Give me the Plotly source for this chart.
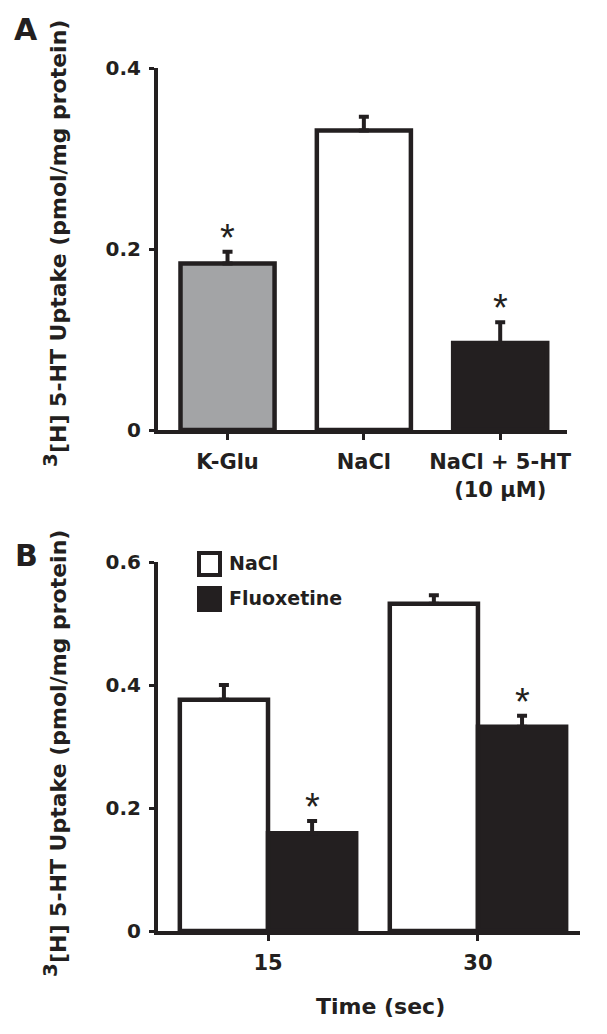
import plotly.graph_objects as go

# ---- Data ----
a_categories = ["K-Glu", "NaCl", "NaCl + 5-HT<br>(10 μM)"]
a_values = [0.184, 0.331, 0.096]
a_errors = [0.013, 0.015, 0.023]
a_colors = ["#a3a4a6", "#ffffff", "#231f20"]
a_signif = [True, False, True]

b_categories = ["15", "30"]
b_series = ["NaCl", "Fluoxetine"]
b_nacl = [0.376, 0.532]
b_nacl_err = [0.024, 0.014]
b_fluox = [0.159, 0.332]
b_fluox_err = [0.020, 0.018]
b_colors = ["#ffffff", "#231f20"]
b_signif_nacl = [False, False]
b_signif_fluox = [True, True]

a_ticks = [0, 0.2, 0.4]
a_ticktext = ["0", "0.2", "0.4"]
b_ticks = [0, 0.2, 0.4, 0.6]
b_ticktext = ["0", "0.2", "0.4", "0.6"]

INK = "#231f20"
FONT = "DejaVu Sans"
OFF = 8  # page body margin
W, H = 607 - OFF, 1034 - OFF


def px(x):
    return (x - OFF) / W


def py(y):
    return 1 - (y - OFF) / H


fig = go.Figure()

err_style = dict(type="data", symmetric=False, thickness=4, width=5, color=INK)

fig.add_trace(go.Bar(
    x=a_categories, y=a_values, width=0.69,
    marker=dict(color=a_colors, line=dict(color=INK, width=4.5)),
    error_y=dict(array=a_errors, arrayminus=[0] * len(a_errors), **err_style),
    xaxis="x", yaxis="y", showlegend=False,
))

b_vals = [b_nacl, b_fluox]
b_errs = [b_nacl_err, b_fluox_err]
for name, vals, errs, col in zip(b_series, b_vals, b_errs, b_colors):
    fig.add_trace(go.Bar(
        x=b_categories, y=vals, name=name,
        marker=dict(color=col, line=dict(color=INK, width=4.5)),
        error_y=dict(array=errs, arrayminus=[0] * len(errs), **err_style),
        xaxis="x2", yaxis="y2", showlegend=False,
    ))

# asterisks
star_font = dict(size=38, color=INK, family="Liberation Sans")
annotations = []
for i, (v, e, s) in enumerate(zip(a_values, a_errors, a_signif)):
    if s:
        annotations.append(dict(x=i, y=v + e, xref="x", yref="y",
                                text="*", showarrow=False, xanchor="center", yanchor="middle",
                                yshift=14, font=star_font))
offsets = [-0.21, 0.21]
for k, (vals, errs, sig) in enumerate([(b_nacl, b_nacl_err, b_signif_nacl), (b_fluox, b_fluox_err, b_signif_fluox)]):
    for i, (v, e, s) in enumerate(zip(vals, errs, sig)):
        if s:
            annotations.append(dict(x=i + offsets[k], y=v + e, xref="x2", yref="y2",
                                    text="*", showarrow=False, xanchor="center", yanchor="middle",
                                    yshift=14, font=star_font))

bold = dict(color=INK, family=FONT, weight="bold")
ytitle = "<sup><span style='font-size:20px'>3</span></sup>[H] 5-HT Uptake (pmol/mg protein)"
annotations += [
    dict(x=px(54), y=py(244), xref="paper", yref="paper", text=ytitle, textangle=-90,
         xanchor="center", yanchor="middle", showarrow=False, font=dict(size=22, **bold)),
    dict(x=px(54), y=py(754), xref="paper", yref="paper", text=ytitle, textangle=-90,
         xanchor="center", yanchor="middle", showarrow=False, font=dict(size=22, **bold)),
    dict(x=px(26), y=py(30), xref="paper", yref="paper", text="A",
         xanchor="center", yanchor="middle", showarrow=False, font=dict(size=30, **bold)),
    dict(x=px(26), y=py(555), xref="paper", yref="paper", text="B",
         xanchor="center", yanchor="middle", showarrow=False, font=dict(size=30, **bold)),
    dict(x=px(380), y=py(1006), xref="paper", yref="paper", text="Time (sec)",
         xanchor="center", yanchor="middle", showarrow=False, font=dict(size=22, **bold)),
]

# manual legend for panel B
shapes = []
leg_rows = [(553, 575), (588, 610)]
for name, col, (y0, y1) in zip(b_series, b_colors, leg_rows):
    shapes.append(dict(type="rect", xref="paper", yref="paper",
                       x0=px(199), x1=px(220), y0=py(y1), y1=py(y0),
                       fillcolor=col, line=dict(color=INK, width=4)))
    annotations.append(dict(x=px(227), y=py((y0 + y1) / 2 - 1), xref="paper", yref="paper",
                            text=name, xanchor="left", yanchor="middle", showarrow=False,
                            font=dict(size=19, **bold)))

axis_common = dict(showline=True, linewidth=4, linecolor=INK, showgrid=False, zeroline=False,
                   ticks="outside", tickwidth=3, tickcolor=INK, automargin=False)

fig.update_layout(
    template="none",
    width=W, height=H,
    margin=dict(l=0, r=0, t=0, b=0, pad=0),
    paper_bgcolor="white", plot_bgcolor="white",
    barmode="group", bargap=0.16, bargroupgap=0,
    showlegend=False,
    xaxis=dict(domain=[px(158), px(567)], anchor="y", type="category", range=[-0.51, 2.49],
               ticklen=6, ticklabelstandoff=4, tickfont=dict(size=21, **bold), **axis_common),
    yaxis=dict(domain=[py(430), py(68)], anchor="x", range=[0, 0.4],
               tickvals=a_ticks, ticktext=a_ticktext, ticklen=5, ticklabelstandoff=4,
               tickfont=dict(size=20, **bold), **axis_common),
    xaxis2=dict(domain=[px(158), px(580)], anchor="y2", type="category", range=[-0.524, 1.486],
                ticklen=6, ticklabelstandoff=4, tickfont=dict(size=21, **bold), **axis_common),
    yaxis2=dict(domain=[py(931), py(562)], anchor="x2", range=[0, 0.6],
                tickvals=b_ticks, ticktext=b_ticktext, ticklen=5, ticklabelstandoff=4,
                tickfont=dict(size=20, **bold), **axis_common),
    annotations=annotations,
    shapes=shapes,
    font=dict(family=FONT, color=INK),
)

fig.write_html("out.html")
